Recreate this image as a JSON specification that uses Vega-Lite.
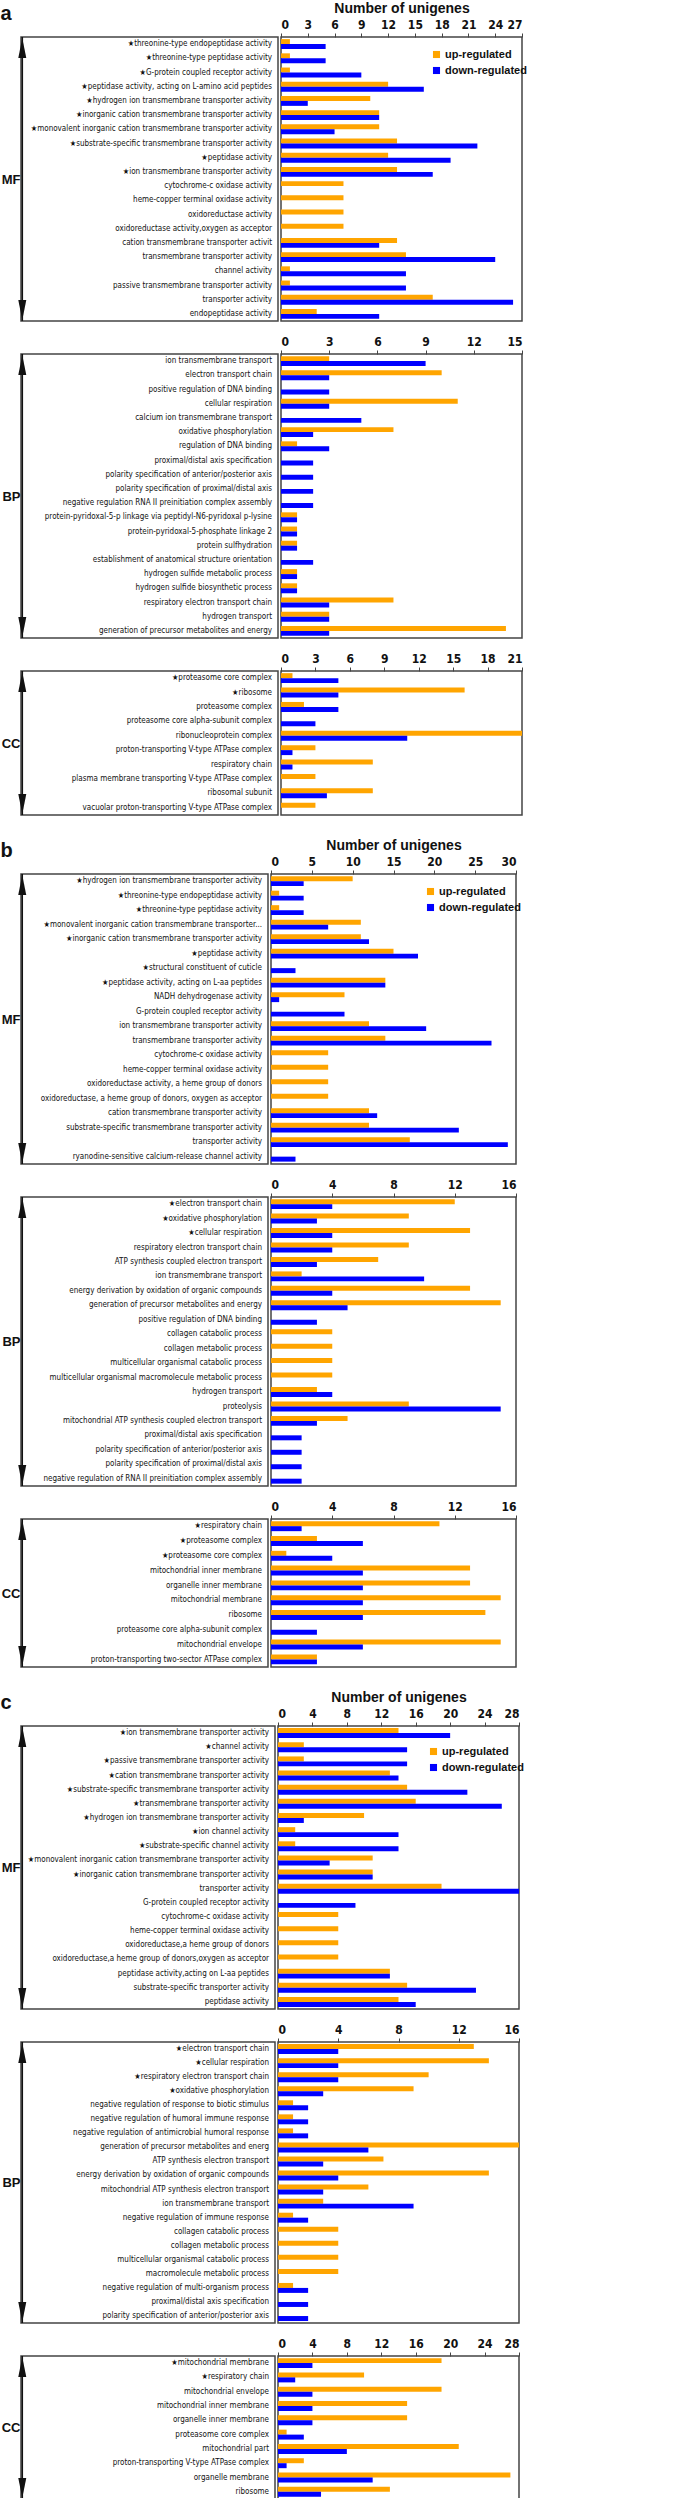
{
"$schema": "https://vega.github.io/schema/vega-lite/v6.json",
"padding": {"left": 0, "top": 0, "right": 0, "bottom": 0},
"background": "white",
"datasets": {
"aMF": [
{"term": "★threonine-type endopeptidase activity", "up": 1, "down": 5},
{"term": "★threonine-type peptidase activity", "up": 1, "down": 5},
{"term": "★G-protein coupled receptor activity", "up": 1, "down": 9},
{"term": "★peptidase activity, acting on L-amino acid peptides", "up": 12, "down": 16},
{"term": "★hydrogen ion transmembrane transporter activity", "up": 10, "down": 3},
{"term": "★inorganic cation transmembrane transporter activity", "up": 11, "down": 11},
{"term": "★monovalent inorganic cation transmembrane transporter activity", "up": 11, "down": 6},
{"term": "★substrate-specific transmembrane transporter activity", "up": 13, "down": 22},
{"term": "★peptidase activity", "up": 12, "down": 19},
{"term": "★ion transmembrane transporter activity", "up": 13, "down": 17},
{"term": "cytochrome-c oxidase activity", "up": 7, "down": 0},
{"term": "heme-copper terminal oxidase activity", "up": 7, "down": 0},
{"term": "oxidoreductase activity", "up": 7, "down": 0},
{"term": "oxidoreductase activity,oxygen as acceptor", "up": 7, "down": 0},
{"term": "cation transmembrane transporter activit", "up": 13, "down": 11},
{"term": "transmembrane transporter activity", "up": 14, "down": 24},
{"term": "channel activity", "up": 1, "down": 14},
{"term": "passive transmembrane transporter activity", "up": 1, "down": 14},
{"term": "transporter activity", "up": 17, "down": 26},
{"term": "endopeptidase activity", "up": 4, "down": 11}
],
"aBP": [
{"term": "ion transmembrane transport", "up": 3, "down": 9},
{"term": "electron transport chain", "up": 10, "down": 3},
{"term": "positive regulation of DNA binding", "up": 0, "down": 3},
{"term": "cellular respiration", "up": 11, "down": 3},
{"term": "calcium ion transmembrane transport", "up": 0, "down": 5},
{"term": "oxidative phosphorylation", "up": 7, "down": 2},
{"term": "regulation of DNA binding", "up": 1, "down": 3},
{"term": "proximal/distal axis specification", "up": 0, "down": 2},
{"term": "polarity specification of anterior/posterior axis", "up": 0, "down": 2},
{"term": "polarity specification of proximal/distal axis", "up": 0, "down": 2},
{"term": "negative regulation RNA II preinitiation complex assembly", "up": 0, "down": 2},
{"term": "protein-pyridoxal-5-p linkage via peptidyl-N6-pyridoxal p-lysine", "up": 1, "down": 1},
{"term": "protein-pyridoxal-5-phosphate linkage 2", "up": 1, "down": 1},
{"term": "protein sulfhydration", "up": 1, "down": 1},
{"term": "establishment of anatomical structure orientation", "up": 0, "down": 2},
{"term": "hydrogen sulfide metabolic process", "up": 1, "down": 1},
{"term": "hydrogen sulfide biosynthetic process", "up": 1, "down": 1},
{"term": "respiratory electron transport chain", "up": 7, "down": 3},
{"term": "hydrogen transport", "up": 3, "down": 3},
{"term": "generation of precursor metabolites and energy", "up": 14, "down": 3}
],
"aCC": [
{"term": "★proteasome core complex", "up": 1, "down": 5},
{"term": "★ribosome", "up": 16, "down": 5},
{"term": "proteasome complex", "up": 2, "down": 5},
{"term": "proteasome core alpha-subunit complex", "up": 0, "down": 3},
{"term": "ribonucleoprotein complex", "up": 21, "down": 11},
{"term": "proton-transporting V-type ATPase complex", "up": 3, "down": 1},
{"term": "respiratory chain", "up": 8, "down": 1},
{"term": "plasma membrane transporting V-type ATPase complex", "up": 3, "down": 0},
{"term": "ribosomal subunit", "up": 8, "down": 4},
{"term": "vacuolar proton-transporting V-type ATPase complex", "up": 3, "down": 0}
],
"bMF": [
{"term": "★hydrogen ion transmembrane transporter activity", "up": 10, "down": 4},
{"term": "★threonine-type endopeptidase activity", "up": 1, "down": 4},
{"term": "★threonine-type peptidase activity", "up": 1, "down": 4},
{"term": "★monovalent inorganic cation transmembrane transporter...", "up": 11, "down": 7},
{"term": "★inorganic cation transmembrane transporter activity", "up": 11, "down": 12},
{"term": "★peptidase activity", "up": 15, "down": 18},
{"term": "★structural constituent of cuticle", "up": 0, "down": 3},
{"term": "★peptidase activity, acting on L-aa peptides", "up": 14, "down": 14},
{"term": "NADH dehydrogenase activity", "up": 9, "down": 1},
{"term": "G-protein coupled receptor activity", "up": 0, "down": 9},
{"term": "ion transmembrane transporter activity", "up": 12, "down": 19},
{"term": "transmembrane transporter activity", "up": 14, "down": 27},
{"term": "cytochrome-c oxidase activity", "up": 7, "down": 0},
{"term": "heme-copper terminal oxidase activity", "up": 7, "down": 0},
{"term": "oxidoreductase activity, a heme group of donors", "up": 7, "down": 0},
{"term": "oxidoreductase, a heme group of donors, oxygen as acceptor", "up": 7, "down": 0},
{"term": "cation transmembrane transporter activity", "up": 12, "down": 13},
{"term": "substrate-specific transmembrane transporter activity", "up": 12, "down": 23},
{"term": "transporter activity", "up": 17, "down": 29},
{"term": "ryanodine-sensitive calcium-release channel activity", "up": 0, "down": 3}
],
"bBP": [
{"term": "★electron transport chain", "up": 12, "down": 4},
{"term": "★oxidative phosphorylation", "up": 9, "down": 3},
{"term": "★cellular respiration", "up": 13, "down": 4},
{"term": "respiratory electron transport chain", "up": 9, "down": 4},
{"term": "ATP synthesis coupled electron transport", "up": 7, "down": 3},
{"term": "ion transmembrane transport", "up": 2, "down": 10},
{"term": "energy derivation by oxidation of organic compounds", "up": 13, "down": 4},
{"term": "generation of precursor metabolites and energy", "up": 15, "down": 5},
{"term": "positive regulation of DNA binding", "up": 0, "down": 3},
{"term": "collagen catabolic process", "up": 4, "down": 0},
{"term": "collagen metabolic process", "up": 4, "down": 0},
{"term": "multicellular organismal catabolic process", "up": 4, "down": 0},
{"term": "multicellular organismal macromolecule metabolic process", "up": 4, "down": 0},
{"term": "hydrogen transport", "up": 3, "down": 4},
{"term": "proteolysis", "up": 9, "down": 15},
{"term": "mitochondrial ATP synthesis coupled electron transport", "up": 5, "down": 3},
{"term": "proximal/distal axis specification", "up": 0, "down": 2},
{"term": "polarity specification of anterior/posterior axis", "up": 0, "down": 2},
{"term": "polarity specification of proximal/distal axis", "up": 0, "down": 2},
{"term": "negative regulation of RNA II  preinitiation complex assembly", "up": 0, "down": 2}
],
"bCC": [
{"term": "★respiratory chain", "up": 11, "down": 2},
{"term": "★proteasome complex", "up": 3, "down": 6},
{"term": "★proteasome core complex", "up": 1, "down": 4},
{"term": "mitochondrial inner membrane", "up": 13, "down": 6},
{"term": "organelle inner membrane", "up": 13, "down": 6},
{"term": "mitochondrial membrane", "up": 15, "down": 6},
{"term": "ribosome", "up": 14, "down": 6},
{"term": "proteasome core alpha-subunit complex", "up": 0, "down": 3},
{"term": "mitochondrial envelope", "up": 15, "down": 6},
{"term": "proton-transporting two-sector ATPase complex", "up": 3, "down": 3}
],
"cMF": [
{"term": "★ion transmembrane transporter activity", "up": 14, "down": 20},
{"term": "★channel activity", "up": 3, "down": 15},
{"term": "★passive transmembrane transporter activity", "up": 3, "down": 15},
{"term": "★cation transmembrane transporter activity", "up": 13, "down": 14},
{"term": "★substrate-specific transmembrane transporter activity", "up": 15, "down": 22},
{"term": "★transmembrane transporter activity", "up": 16, "down": 26},
{"term": "★hydrogen ion transmembrane transporter activity", "up": 10, "down": 3},
{"term": "★ion channel activity", "up": 2, "down": 14},
{"term": "★substrate-specific channel activity", "up": 2, "down": 14},
{"term": "★monovalent inorganic cation transmembrane transporter activity", "up": 11, "down": 6},
{"term": "★inorganic cation transmembrane transporter activity", "up": 11, "down": 11},
{"term": "transporter activity", "up": 19, "down": 28},
{"term": "G-protein coupled receptor activity", "up": 0, "down": 9},
{"term": "cytochrome-c oxidase activity", "up": 7, "down": 0},
{"term": "heme-copper terminal oxidase activity", "up": 7, "down": 0},
{"term": "oxidoreductase,a heme group of donors", "up": 7, "down": 0},
{"term": "oxidoreductase,a heme group of donors,oxygen as acceptor", "up": 7, "down": 0},
{"term": "peptidase activity,acting on L-aa peptides", "up": 13, "down": 13},
{"term": "substrate-specific transporter activity", "up": 15, "down": 23},
{"term": "peptidase activity", "up": 14, "down": 16}
],
"cBP": [
{"term": "★electron transport chain", "up": 13, "down": 4},
{"term": "★cellular respiration", "up": 14, "down": 4},
{"term": "★respiratory electron transport chain", "up": 10, "down": 4},
{"term": "★oxidative phosphorylation", "up": 9, "down": 3},
{"term": "negative regulation of response to biotic stimulus", "up": 1, "down": 2},
{"term": "negative regulation of humoral immune response", "up": 1, "down": 2},
{"term": "negative regulation of antimicrobial humoral response", "up": 1, "down": 2},
{"term": "generation of precursor metabolites and energ", "up": 16, "down": 6},
{"term": "ATP synthesis electron transport", "up": 7, "down": 3},
{"term": "energy derivation by oxidation of organic compounds", "up": 14, "down": 4},
{"term": "mitochondrial ATP synthesis electron transport", "up": 6, "down": 3},
{"term": "ion transmembrane transport", "up": 3, "down": 9},
{"term": "negative regulation of immune response", "up": 1, "down": 2},
{"term": "collagen catabolic process", "up": 4, "down": 0},
{"term": "collagen metabolic process", "up": 4, "down": 0},
{"term": "multicellular organismal catabolic process", "up": 4, "down": 0},
{"term": "macromolecule metabolic process", "up": 4, "down": 0},
{"term": "negative regulation of multi-organism process", "up": 1, "down": 2},
{"term": "proximal/distal axis specification", "up": 0, "down": 2},
{"term": "polarity specification of anterior/posterior axis", "up": 0, "down": 2}
],
"cCC": [
{"term": "★mitochondrial membrane", "up": 19, "down": 4},
{"term": "★respiratory chain", "up": 10, "down": 2},
{"term": "mitochondrial envelope", "up": 19, "down": 4},
{"term": "mitochondrial inner membrane", "up": 15, "down": 4},
{"term": "organelle inner membrane", "up": 15, "down": 4},
{"term": "proteasome core complex", "up": 1, "down": 3},
{"term": "mitochondrial part", "up": 21, "down": 8},
{"term": "proton-transporting V-type ATPase complex", "up": 3, "down": 1},
{"term": "organelle membrane", "up": 27, "down": 11},
{"term": "ribosome", "up": 13, "down": 5}
]
},
"vconcat": [
{
"title": {"text": "a", "anchor": "start", "fontSize": 20, "fontWeight": "bold", "offset": -24},
"spacing": 11,
"resolve": {"scale": {"x": "independent", "y": "independent", "color": "independent"}, "legend": {"color": "independent"}},
"vconcat": [
{"spacing": 0, "resolve": {"scale": {"x": "independent", "y": "independent", "color": "independent"}, "legend": {"color": "independent"}},
"hconcat": [
{"width": 257, "height": 284, "data": {"name": "aMF"},
"layer": [
{"mark": {"type": "text", "align": "right", "baseline": "middle", "dx": -6},
"encoding": {"y": {"field": "term", "type": "nominal", "sort": null, "scale": {"paddingInner": 0.3, "paddingOuter": 0.15}, "axis": {"title": "MF"}},
"x": {"datum": 1, "type": "quantitative", "scale": {"domain": [0, 1]}, "axis": null}, "text": {"field": "term"}}},
{"data": {"values": [{}]}, "mark": {"type": "rule", "strokeWidth": 1.6, "color": "#111"},
"encoding": {"x": {"datum": 0.005, "type": "quantitative"}, "y": {"datum": 0, "type": "quantitative", "scale": {"domain": [0, 1]}, "axis": null}, "y2": {"datum": 1}}},
{"data": {"values": [{}]}, "mark": {"type": "point", "shape": "M0,-1L0.4,1L-0.4,1Z", "size": 400, "filled": true, "color": "#111", "opacity": 1, "yOffset": 11},
"encoding": {"x": {"datum": 0.005, "type": "quantitative"}, "y": {"datum": 1, "type": "quantitative", "scale": {"domain": [0, 1]}, "axis": null}}},
{"data": {"values": [{}]}, "mark": {"type": "point", "shape": "M0,1L0.4,-1L-0.4,-1Z", "size": 400, "filled": true, "color": "#111", "opacity": 1, "yOffset": -11},
"encoding": {"x": {"datum": 0.005, "type": "quantitative"}, "y": {"datum": 0, "type": "quantitative", "scale": {"domain": [0, 1]}, "axis": null}}}
],
"resolve": {"scale": {"y": "independent"}}},
{"width": 241, "height": 284, "data": {"name": "aMF"},
"transform": [{"fold": ["up", "down"], "as": ["reg", "n"]}, {"filter": "datum.n > 0"}],
"mark": {"type": "bar"},
"encoding": {"y": {"field": "term", "type": "nominal", "sort": null, "scale": {"paddingInner": 0.3, "paddingOuter": 0.15}, "axis": null},
"yOffset": {"field": "reg", "type": "nominal", "sort": ["up", "down"], "scale": {"paddingInner": 0, "paddingOuter": 0}},
"x": {"field": "n", "type": "quantitative", "scale": {"domain": [0, 27], "nice": false}, "axis": {"orient": "top", "values": [0, 3, 6, 9, 12, 15, 18, 21, 24, 27], "title": "Number of unigenes"}},
"color": {"field": "reg", "type": "nominal", "scale": {"domain": ["up", "down"], "range": ["#FFA500", "#0000FF"]}, "legend": {"orient": "none", "legendX": 150, "legendY": 12, "title": null, "labelExpr": "datum.label == 'up' ? 'up-regulated' : 'down-regulated'"}}}}
]},
{"spacing": 0, "resolve": {"scale": {"x": "independent", "y": "independent", "color": "independent"}, "legend": {"color": "independent"}},
"hconcat": [
{"width": 257, "height": 284, "data": {"name": "aBP"},
"layer": [
{"mark": {"type": "text", "align": "right", "baseline": "middle", "dx": -6},
"encoding": {"y": {"field": "term", "type": "nominal", "sort": null, "scale": {"paddingInner": 0.3, "paddingOuter": 0.15}, "axis": {"title": "BP"}},
"x": {"datum": 1, "type": "quantitative", "scale": {"domain": [0, 1]}, "axis": null}, "text": {"field": "term"}}},
{"data": {"values": [{}]}, "mark": {"type": "rule", "strokeWidth": 1.6, "color": "#111"},
"encoding": {"x": {"datum": 0.005, "type": "quantitative"}, "y": {"datum": 0, "type": "quantitative", "scale": {"domain": [0, 1]}, "axis": null}, "y2": {"datum": 1}}},
{"data": {"values": [{}]}, "mark": {"type": "point", "shape": "M0,-1L0.4,1L-0.4,1Z", "size": 400, "filled": true, "color": "#111", "opacity": 1, "yOffset": 11},
"encoding": {"x": {"datum": 0.005, "type": "quantitative"}, "y": {"datum": 1, "type": "quantitative", "scale": {"domain": [0, 1]}, "axis": null}}},
{"data": {"values": [{}]}, "mark": {"type": "point", "shape": "M0,1L0.4,-1L-0.4,-1Z", "size": 400, "filled": true, "color": "#111", "opacity": 1, "yOffset": -11},
"encoding": {"x": {"datum": 0.005, "type": "quantitative"}, "y": {"datum": 0, "type": "quantitative", "scale": {"domain": [0, 1]}, "axis": null}}}
],
"resolve": {"scale": {"y": "independent"}}},
{"width": 241, "height": 284, "data": {"name": "aBP"},
"transform": [{"fold": ["up", "down"], "as": ["reg", "n"]}, {"filter": "datum.n > 0"}],
"mark": {"type": "bar"},
"encoding": {"y": {"field": "term", "type": "nominal", "sort": null, "scale": {"paddingInner": 0.3, "paddingOuter": 0.15}, "axis": null},
"yOffset": {"field": "reg", "type": "nominal", "sort": ["up", "down"], "scale": {"paddingInner": 0, "paddingOuter": 0}},
"x": {"field": "n", "type": "quantitative", "scale": {"domain": [0, 15], "nice": false}, "axis": {"orient": "top", "values": [0, 3, 6, 9, 12, 15], "title": null}},
"color": {"field": "reg", "type": "nominal", "scale": {"domain": ["up", "down"], "range": ["#FFA500", "#0000FF"]}, "legend": null}}}
]},
{"spacing": 0, "resolve": {"scale": {"x": "independent", "y": "independent", "color": "independent"}, "legend": {"color": "independent"}},
"hconcat": [
{"width": 257, "height": 144, "data": {"name": "aCC"},
"layer": [
{"mark": {"type": "text", "align": "right", "baseline": "middle", "dx": -6},
"encoding": {"y": {"field": "term", "type": "nominal", "sort": null, "scale": {"paddingInner": 0.3, "paddingOuter": 0.15}, "axis": {"title": "CC"}},
"x": {"datum": 1, "type": "quantitative", "scale": {"domain": [0, 1]}, "axis": null}, "text": {"field": "term"}}},
{"data": {"values": [{}]}, "mark": {"type": "rule", "strokeWidth": 1.6, "color": "#111"},
"encoding": {"x": {"datum": 0.005, "type": "quantitative"}, "y": {"datum": 0, "type": "quantitative", "scale": {"domain": [0, 1]}, "axis": null}, "y2": {"datum": 1}}},
{"data": {"values": [{}]}, "mark": {"type": "point", "shape": "M0,-1L0.4,1L-0.4,1Z", "size": 400, "filled": true, "color": "#111", "opacity": 1, "yOffset": 11},
"encoding": {"x": {"datum": 0.005, "type": "quantitative"}, "y": {"datum": 1, "type": "quantitative", "scale": {"domain": [0, 1]}, "axis": null}}},
{"data": {"values": [{}]}, "mark": {"type": "point", "shape": "M0,1L0.4,-1L-0.4,-1Z", "size": 400, "filled": true, "color": "#111", "opacity": 1, "yOffset": -11},
"encoding": {"x": {"datum": 0.005, "type": "quantitative"}, "y": {"datum": 0, "type": "quantitative", "scale": {"domain": [0, 1]}, "axis": null}}}
],
"resolve": {"scale": {"y": "independent"}}},
{"width": 241, "height": 144, "data": {"name": "aCC"},
"transform": [{"fold": ["up", "down"], "as": ["reg", "n"]}, {"filter": "datum.n > 0"}],
"mark": {"type": "bar"},
"encoding": {"y": {"field": "term", "type": "nominal", "sort": null, "scale": {"paddingInner": 0.3, "paddingOuter": 0.15}, "axis": null},
"yOffset": {"field": "reg", "type": "nominal", "sort": ["up", "down"], "scale": {"paddingInner": 0, "paddingOuter": 0}},
"x": {"field": "n", "type": "quantitative", "scale": {"domain": [0, 21], "nice": false}, "axis": {"orient": "top", "values": [0, 3, 6, 9, 12, 15, 18, 21], "title": null}},
"color": {"field": "reg", "type": "nominal", "scale": {"domain": ["up", "down"], "range": ["#FFA500", "#0000FF"]}, "legend": null}}}
]}
]
},
{
"title": {"text": "b", "anchor": "start", "fontSize": 20, "fontWeight": "bold", "offset": -24},
"spacing": 11,
"resolve": {"scale": {"x": "independent", "y": "independent", "color": "independent"}, "legend": {"color": "independent"}},
"vconcat": [
{"spacing": 0, "resolve": {"scale": {"x": "independent", "y": "independent", "color": "independent"}, "legend": {"color": "independent"}},
"hconcat": [
{"width": 247, "height": 290, "data": {"name": "bMF"},
"layer": [
{"mark": {"type": "text", "align": "right", "baseline": "middle", "dx": -6},
"encoding": {"y": {"field": "term", "type": "nominal", "sort": null, "scale": {"paddingInner": 0.3, "paddingOuter": 0.15}, "axis": {"title": "MF"}},
"x": {"datum": 1, "type": "quantitative", "scale": {"domain": [0, 1]}, "axis": null}, "text": {"field": "term"}}},
{"data": {"values": [{}]}, "mark": {"type": "rule", "strokeWidth": 1.6, "color": "#111"},
"encoding": {"x": {"datum": 0.005, "type": "quantitative"}, "y": {"datum": 0, "type": "quantitative", "scale": {"domain": [0, 1]}, "axis": null}, "y2": {"datum": 1}}},
{"data": {"values": [{}]}, "mark": {"type": "point", "shape": "M0,-1L0.4,1L-0.4,1Z", "size": 400, "filled": true, "color": "#111", "opacity": 1, "yOffset": 11},
"encoding": {"x": {"datum": 0.005, "type": "quantitative"}, "y": {"datum": 1, "type": "quantitative", "scale": {"domain": [0, 1]}, "axis": null}}},
{"data": {"values": [{}]}, "mark": {"type": "point", "shape": "M0,1L0.4,-1L-0.4,-1Z", "size": 400, "filled": true, "color": "#111", "opacity": 1, "yOffset": -11},
"encoding": {"x": {"datum": 0.005, "type": "quantitative"}, "y": {"datum": 0, "type": "quantitative", "scale": {"domain": [0, 1]}, "axis": null}}}
],
"resolve": {"scale": {"y": "independent"}}},
{"width": 245, "height": 290, "data": {"name": "bMF"},
"transform": [{"fold": ["up", "down"], "as": ["reg", "n"]}, {"filter": "datum.n > 0"}],
"mark": {"type": "bar"},
"encoding": {"y": {"field": "term", "type": "nominal", "sort": null, "scale": {"paddingInner": 0.3, "paddingOuter": 0.15}, "axis": null},
"yOffset": {"field": "reg", "type": "nominal", "sort": ["up", "down"], "scale": {"paddingInner": 0, "paddingOuter": 0}},
"x": {"field": "n", "type": "quantitative", "scale": {"domain": [0, 30], "nice": false}, "axis": {"orient": "top", "values": [0, 5, 10, 15, 20, 25, 30], "title": "Number of unigenes"}},
"color": {"field": "reg", "type": "nominal", "scale": {"domain": ["up", "down"], "range": ["#FFA500", "#0000FF"]}, "legend": {"orient": "none", "legendX": 154, "legendY": 12, "title": null, "labelExpr": "datum.label == 'up' ? 'up-regulated' : 'down-regulated'"}}}}
]},
{"spacing": 0, "resolve": {"scale": {"x": "independent", "y": "independent", "color": "independent"}, "legend": {"color": "independent"}},
"hconcat": [
{"width": 247, "height": 289, "data": {"name": "bBP"},
"layer": [
{"mark": {"type": "text", "align": "right", "baseline": "middle", "dx": -6},
"encoding": {"y": {"field": "term", "type": "nominal", "sort": null, "scale": {"paddingInner": 0.3, "paddingOuter": 0.15}, "axis": {"title": "BP"}},
"x": {"datum": 1, "type": "quantitative", "scale": {"domain": [0, 1]}, "axis": null}, "text": {"field": "term"}}},
{"data": {"values": [{}]}, "mark": {"type": "rule", "strokeWidth": 1.6, "color": "#111"},
"encoding": {"x": {"datum": 0.005, "type": "quantitative"}, "y": {"datum": 0, "type": "quantitative", "scale": {"domain": [0, 1]}, "axis": null}, "y2": {"datum": 1}}},
{"data": {"values": [{}]}, "mark": {"type": "point", "shape": "M0,-1L0.4,1L-0.4,1Z", "size": 400, "filled": true, "color": "#111", "opacity": 1, "yOffset": 11},
"encoding": {"x": {"datum": 0.005, "type": "quantitative"}, "y": {"datum": 1, "type": "quantitative", "scale": {"domain": [0, 1]}, "axis": null}}},
{"data": {"values": [{}]}, "mark": {"type": "point", "shape": "M0,1L0.4,-1L-0.4,-1Z", "size": 400, "filled": true, "color": "#111", "opacity": 1, "yOffset": -11},
"encoding": {"x": {"datum": 0.005, "type": "quantitative"}, "y": {"datum": 0, "type": "quantitative", "scale": {"domain": [0, 1]}, "axis": null}}}
],
"resolve": {"scale": {"y": "independent"}}},
{"width": 245, "height": 289, "data": {"name": "bBP"},
"transform": [{"fold": ["up", "down"], "as": ["reg", "n"]}, {"filter": "datum.n > 0"}],
"mark": {"type": "bar"},
"encoding": {"y": {"field": "term", "type": "nominal", "sort": null, "scale": {"paddingInner": 0.3, "paddingOuter": 0.15}, "axis": null},
"yOffset": {"field": "reg", "type": "nominal", "sort": ["up", "down"], "scale": {"paddingInner": 0, "paddingOuter": 0}},
"x": {"field": "n", "type": "quantitative", "scale": {"domain": [0, 16], "nice": false}, "axis": {"orient": "top", "values": [0, 4, 8, 12, 16], "title": null}},
"color": {"field": "reg", "type": "nominal", "scale": {"domain": ["up", "down"], "range": ["#FFA500", "#0000FF"]}, "legend": null}}}
]},
{"spacing": 0, "resolve": {"scale": {"x": "independent", "y": "independent", "color": "independent"}, "legend": {"color": "independent"}},
"hconcat": [
{"width": 247, "height": 148, "data": {"name": "bCC"},
"layer": [
{"mark": {"type": "text", "align": "right", "baseline": "middle", "dx": -6},
"encoding": {"y": {"field": "term", "type": "nominal", "sort": null, "scale": {"paddingInner": 0.3, "paddingOuter": 0.15}, "axis": {"title": "CC"}},
"x": {"datum": 1, "type": "quantitative", "scale": {"domain": [0, 1]}, "axis": null}, "text": {"field": "term"}}},
{"data": {"values": [{}]}, "mark": {"type": "rule", "strokeWidth": 1.6, "color": "#111"},
"encoding": {"x": {"datum": 0.005, "type": "quantitative"}, "y": {"datum": 0, "type": "quantitative", "scale": {"domain": [0, 1]}, "axis": null}, "y2": {"datum": 1}}},
{"data": {"values": [{}]}, "mark": {"type": "point", "shape": "M0,-1L0.4,1L-0.4,1Z", "size": 400, "filled": true, "color": "#111", "opacity": 1, "yOffset": 11},
"encoding": {"x": {"datum": 0.005, "type": "quantitative"}, "y": {"datum": 1, "type": "quantitative", "scale": {"domain": [0, 1]}, "axis": null}}},
{"data": {"values": [{}]}, "mark": {"type": "point", "shape": "M0,1L0.4,-1L-0.4,-1Z", "size": 400, "filled": true, "color": "#111", "opacity": 1, "yOffset": -11},
"encoding": {"x": {"datum": 0.005, "type": "quantitative"}, "y": {"datum": 0, "type": "quantitative", "scale": {"domain": [0, 1]}, "axis": null}}}
],
"resolve": {"scale": {"y": "independent"}}},
{"width": 245, "height": 148, "data": {"name": "bCC"},
"transform": [{"fold": ["up", "down"], "as": ["reg", "n"]}, {"filter": "datum.n > 0"}],
"mark": {"type": "bar"},
"encoding": {"y": {"field": "term", "type": "nominal", "sort": null, "scale": {"paddingInner": 0.3, "paddingOuter": 0.15}, "axis": null},
"yOffset": {"field": "reg", "type": "nominal", "sort": ["up", "down"], "scale": {"paddingInner": 0, "paddingOuter": 0}},
"x": {"field": "n", "type": "quantitative", "scale": {"domain": [0, 16], "nice": false}, "axis": {"orient": "top", "values": [0, 4, 8, 12, 16], "title": null}},
"color": {"field": "reg", "type": "nominal", "scale": {"domain": ["up", "down"], "range": ["#FFA500", "#0000FF"]}, "legend": null}}}
]}
]
},
{
"title": {"text": "c", "anchor": "start", "fontSize": 20, "fontWeight": "bold", "offset": -24},
"spacing": 11,
"resolve": {"scale": {"x": "independent", "y": "independent", "color": "independent"}, "legend": {"color": "independent"}},
"vconcat": [
{"spacing": 0, "resolve": {"scale": {"x": "independent", "y": "independent", "color": "independent"}, "legend": {"color": "independent"}},
"hconcat": [
{"width": 254, "height": 283, "data": {"name": "cMF"},
"layer": [
{"mark": {"type": "text", "align": "right", "baseline": "middle", "dx": -6},
"encoding": {"y": {"field": "term", "type": "nominal", "sort": null, "scale": {"paddingInner": 0.3, "paddingOuter": 0.15}, "axis": {"title": "MF"}},
"x": {"datum": 1, "type": "quantitative", "scale": {"domain": [0, 1]}, "axis": null}, "text": {"field": "term"}}},
{"data": {"values": [{}]}, "mark": {"type": "rule", "strokeWidth": 1.6, "color": "#111"},
"encoding": {"x": {"datum": 0.005, "type": "quantitative"}, "y": {"datum": 0, "type": "quantitative", "scale": {"domain": [0, 1]}, "axis": null}, "y2": {"datum": 1}}},
{"data": {"values": [{}]}, "mark": {"type": "point", "shape": "M0,-1L0.4,1L-0.4,1Z", "size": 400, "filled": true, "color": "#111", "opacity": 1, "yOffset": 11},
"encoding": {"x": {"datum": 0.005, "type": "quantitative"}, "y": {"datum": 1, "type": "quantitative", "scale": {"domain": [0, 1]}, "axis": null}}},
{"data": {"values": [{}]}, "mark": {"type": "point", "shape": "M0,1L0.4,-1L-0.4,-1Z", "size": 400, "filled": true, "color": "#111", "opacity": 1, "yOffset": -11},
"encoding": {"x": {"datum": 0.005, "type": "quantitative"}, "y": {"datum": 0, "type": "quantitative", "scale": {"domain": [0, 1]}, "axis": null}}}
],
"resolve": {"scale": {"y": "independent"}}},
{"width": 241, "height": 283, "data": {"name": "cMF"},
"transform": [{"fold": ["up", "down"], "as": ["reg", "n"]}, {"filter": "datum.n > 0"}],
"mark": {"type": "bar"},
"encoding": {"y": {"field": "term", "type": "nominal", "sort": null, "scale": {"paddingInner": 0.3, "paddingOuter": 0.15}, "axis": null},
"yOffset": {"field": "reg", "type": "nominal", "sort": ["up", "down"], "scale": {"paddingInner": 0, "paddingOuter": 0}},
"x": {"field": "n", "type": "quantitative", "scale": {"domain": [0, 28], "nice": false}, "axis": {"orient": "top", "values": [0, 4, 8, 12, 16, 20, 24, 28], "title": "Number of unigenes"}},
"color": {"field": "reg", "type": "nominal", "scale": {"domain": ["up", "down"], "range": ["#FFA500", "#0000FF"]}, "legend": {"orient": "none", "legendX": 150, "legendY": 20, "title": null, "labelExpr": "datum.label == 'up' ? 'up-regulated' : 'down-regulated'"}}}}
]},
{"spacing": 0, "resolve": {"scale": {"x": "independent", "y": "independent", "color": "independent"}, "legend": {"color": "independent"}},
"hconcat": [
{"width": 254, "height": 281, "data": {"name": "cBP"},
"layer": [
{"mark": {"type": "text", "align": "right", "baseline": "middle", "dx": -6},
"encoding": {"y": {"field": "term", "type": "nominal", "sort": null, "scale": {"paddingInner": 0.3, "paddingOuter": 0.15}, "axis": {"title": "BP"}},
"x": {"datum": 1, "type": "quantitative", "scale": {"domain": [0, 1]}, "axis": null}, "text": {"field": "term"}}},
{"data": {"values": [{}]}, "mark": {"type": "rule", "strokeWidth": 1.6, "color": "#111"},
"encoding": {"x": {"datum": 0.005, "type": "quantitative"}, "y": {"datum": 0, "type": "quantitative", "scale": {"domain": [0, 1]}, "axis": null}, "y2": {"datum": 1}}},
{"data": {"values": [{}]}, "mark": {"type": "point", "shape": "M0,-1L0.4,1L-0.4,1Z", "size": 400, "filled": true, "color": "#111", "opacity": 1, "yOffset": 11},
"encoding": {"x": {"datum": 0.005, "type": "quantitative"}, "y": {"datum": 1, "type": "quantitative", "scale": {"domain": [0, 1]}, "axis": null}}},
{"data": {"values": [{}]}, "mark": {"type": "point", "shape": "M0,1L0.4,-1L-0.4,-1Z", "size": 400, "filled": true, "color": "#111", "opacity": 1, "yOffset": -11},
"encoding": {"x": {"datum": 0.005, "type": "quantitative"}, "y": {"datum": 0, "type": "quantitative", "scale": {"domain": [0, 1]}, "axis": null}}}
],
"resolve": {"scale": {"y": "independent"}}},
{"width": 241, "height": 281, "data": {"name": "cBP"},
"transform": [{"fold": ["up", "down"], "as": ["reg", "n"]}, {"filter": "datum.n > 0"}],
"mark": {"type": "bar"},
"encoding": {"y": {"field": "term", "type": "nominal", "sort": null, "scale": {"paddingInner": 0.3, "paddingOuter": 0.15}, "axis": null},
"yOffset": {"field": "reg", "type": "nominal", "sort": ["up", "down"], "scale": {"paddingInner": 0, "paddingOuter": 0}},
"x": {"field": "n", "type": "quantitative", "scale": {"domain": [0, 16], "nice": false}, "axis": {"orient": "top", "values": [0, 4, 8, 12, 16], "title": null}},
"color": {"field": "reg", "type": "nominal", "scale": {"domain": ["up", "down"], "range": ["#FFA500", "#0000FF"]}, "legend": null}}}
]},
{"spacing": 0, "resolve": {"scale": {"x": "independent", "y": "independent", "color": "independent"}, "legend": {"color": "independent"}},
"hconcat": [
{"width": 254, "height": 143, "data": {"name": "cCC"},
"layer": [
{"mark": {"type": "text", "align": "right", "baseline": "middle", "dx": -6},
"encoding": {"y": {"field": "term", "type": "nominal", "sort": null, "scale": {"paddingInner": 0.3, "paddingOuter": 0.15}, "axis": {"title": "CC"}},
"x": {"datum": 1, "type": "quantitative", "scale": {"domain": [0, 1]}, "axis": null}, "text": {"field": "term"}}},
{"data": {"values": [{}]}, "mark": {"type": "rule", "strokeWidth": 1.6, "color": "#111"},
"encoding": {"x": {"datum": 0.005, "type": "quantitative"}, "y": {"datum": 0, "type": "quantitative", "scale": {"domain": [0, 1]}, "axis": null}, "y2": {"datum": 1}}},
{"data": {"values": [{}]}, "mark": {"type": "point", "shape": "M0,-1L0.4,1L-0.4,1Z", "size": 400, "filled": true, "color": "#111", "opacity": 1, "yOffset": 11},
"encoding": {"x": {"datum": 0.005, "type": "quantitative"}, "y": {"datum": 1, "type": "quantitative", "scale": {"domain": [0, 1]}, "axis": null}}},
{"data": {"values": [{}]}, "mark": {"type": "point", "shape": "M0,1L0.4,-1L-0.4,-1Z", "size": 400, "filled": true, "color": "#111", "opacity": 1, "yOffset": -11},
"encoding": {"x": {"datum": 0.005, "type": "quantitative"}, "y": {"datum": 0, "type": "quantitative", "scale": {"domain": [0, 1]}, "axis": null}}}
],
"resolve": {"scale": {"y": "independent"}}},
{"width": 241, "height": 143, "data": {"name": "cCC"},
"transform": [{"fold": ["up", "down"], "as": ["reg", "n"]}, {"filter": "datum.n > 0"}],
"mark": {"type": "bar"},
"encoding": {"y": {"field": "term", "type": "nominal", "sort": null, "scale": {"paddingInner": 0.3, "paddingOuter": 0.15}, "axis": null},
"yOffset": {"field": "reg", "type": "nominal", "sort": ["up", "down"], "scale": {"paddingInner": 0, "paddingOuter": 0}},
"x": {"field": "n", "type": "quantitative", "scale": {"domain": [0, 28], "nice": false}, "axis": {"orient": "top", "values": [0, 4, 8, 12, 16, 20, 24, 28], "title": null}},
"color": {"field": "reg", "type": "nominal", "scale": {"domain": ["up", "down"], "range": ["#FFA500", "#0000FF"]}, "legend": null}}}
]}
]
}
],
"spacing": 20,
"resolve": {"scale": {"x": "independent", "y": "independent", "color": "independent"}, "legend": {"color": "independent"}},
"config": {
"font": "Liberation Sans",
"view": {"stroke": "#444", "strokeWidth": 1.5},
"axis": {"labelFont": "Liberation Sans Narrow, DejaVu Sans Condensed, Liberation Sans", "labelFontSize": 12, "labelFontWeight": "bold", "labelColor": "#111", "tickColor": "#444", "tickSize": 4, "labelPadding": 2, "domain": false, "grid": false, "titleFont": "Liberation Sans", "titleFontWeight": "bold", "titleColor": "#111", "titleFontSize": 14, "titlePadding": 3},
"axisY": {"labels": false, "ticks": false, "titleAngle": 0, "titleFontSize": 13, "titlePadding": 1, "titleAlign": "right", "titleBaseline": "middle"},
"text": {"font": "Liberation Sans Narrow, DejaVu Sans Condensed, Liberation Sans", "fontSize": 8, "color": "#111"},
"legend": {"symbolType": "square", "symbolSize": 50, "symbolStrokeWidth": 0, "labelFont": "Liberation Sans", "labelFontSize": 11, "labelFontWeight": "bold", "labelColor": "#111", "padding": 0, "rowPadding": 4, "labelOffset": 3},
"title": {"font": "Liberation Sans", "color": "#111"}
}
}
